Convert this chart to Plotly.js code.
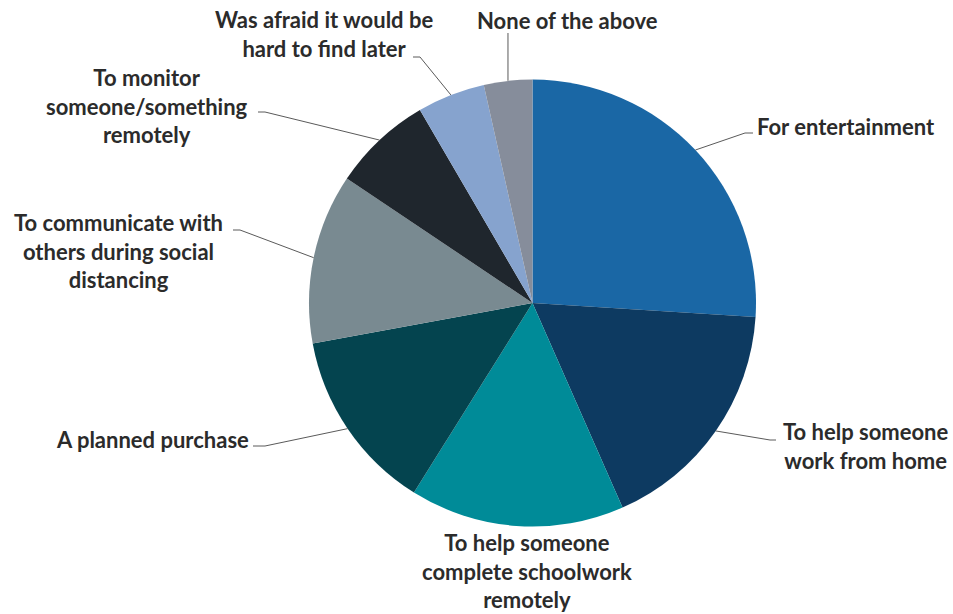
<!DOCTYPE html>
<html>
<head>
<meta charset="utf-8">
<script src="https://cdn.plot.ly/plotly-3.0.1.min.js"></script>
<style>html,body{margin:0;padding:0;background:#fff;}#chart{width:953px;height:614px;}</style>
</head>
<body>
<div id="chart"></div>
<script>
// Data (percent shares)
const categories = [
  "For entertainment",
  "To help someone work from home",
  "To help someone complete schoolwork remotely",
  "A planned purchase",
  "To communicate with others during social distancing",
  "To monitor someone/something remotely",
  "Was afraid it would be hard to find later",
  "None of the above"
];
const values = [26.0, 17.4, 15.5, 13.2, 12.3, 7.2, 4.9, 3.5];
const labelTexts = [
  "For entertainment",
  "To help someone<br>work from home",
  "To help someone<br>complete schoolwork<br>remotely",
  "A planned purchase",
  "To communicate with<br>others during social<br>distancing",
  "To monitor<br>someone/something<br>remotely",
  "Was afraid it would be<br>hard to find later",
  "None of the above"
];
const colors = ["#1a67a5", "#0d3a61", "#008b98", "#04444f", "#798a91", "#1f262d", "#86a3ce", "#868d9b"];

// Layout geometry (pixels)
const W = 953, H = 614;
const cx = 532.5, cy = 303, R = 223.5;
const px = x => x / W;
const py = y => 1 - y / H;

// label placement: [x, y, xanchor, align]
const labelPos = [
  [755, 127, "left", "left"],
  [866, 446, "center", "center"],
  [527, 571, "center", "center"],
  [251, 439, "right", "right"],
  [118, 251, "center", "center"],
  [147, 106, "center", "center"],
  [324, 34, "center", "center"],
  [567, 20, "center", "center"]
];
// leader elbow / end points (null = no leader)
const leaders = [
  [[745, 133], [753, 133]],
  [[770, 440], [776, 440]],
  null,
  [[265, 446], [253, 446]],
  [[240, 230], [233, 230]],
  [[265, 112], [258, 112]],
  [[420, 57], [413, 57]],
  ["v", 33]
];

const total = values.reduce((a, b) => a + b, 0);
let cum = 0;
const shapes = [];
values.forEach((v, i) => {
  const mid = (cum + v / 2) / total * 2 * Math.PI;
  cum += v;
  const ex = cx + R * Math.sin(mid), ey = cy - R * Math.cos(mid);
  const L = leaders[i];
  if (!L) return;
  let path;
  if (L[0] === "v") {
    path = `M ${px(ex)} ${py(ey)} L ${px(ex)} ${py(L[1])}`;
  } else {
    path = `M ${px(ex)} ${py(ey)} L ${px(L[0][0])} ${py(L[0][1])} L ${px(L[1][0])} ${py(L[1][1])}`;
  }
  shapes.push({type: "path", xref: "paper", yref: "paper", path: path,
    line: {color: "#5a5a5a", width: 1}});
});

const annotations = labelTexts.map((t, i) => ({
  text: t, xref: "paper", yref: "paper",
  x: px(labelPos[i][0]), y: py(labelPos[i][1]),
  xanchor: labelPos[i][2], yanchor: "middle", align: labelPos[i][3],
  showarrow: false,
  font: {family: "Lato, 'Open Sans', sans-serif", size: 22, color: "#2b2b2b", weight: "bold"}
}));

const trace = {
  type: "pie",
  labels: categories,
  values: values,
  sort: false,
  direction: "clockwise",
  rotation: 0,
  textinfo: "none",
  hoverinfo: "label+percent",
  marker: {colors: colors, line: {color: "#ffffff", width: 0}},
  domain: {x: [px(cx - R), px(cx + R)], y: [py(cy + R), py(cy - R)]},
  showlegend: false
};

Plotly.newPlot("chart", [trace], {
  width: W, height: H,
  margin: {l: 0, r: 0, t: 0, b: 0},
  paper_bgcolor: "#ffffff",
  showlegend: false,
  shapes: shapes,
  annotations: annotations
}, {displayModeBar: false, staticPlot: true});
</script>
</body>
</html>
